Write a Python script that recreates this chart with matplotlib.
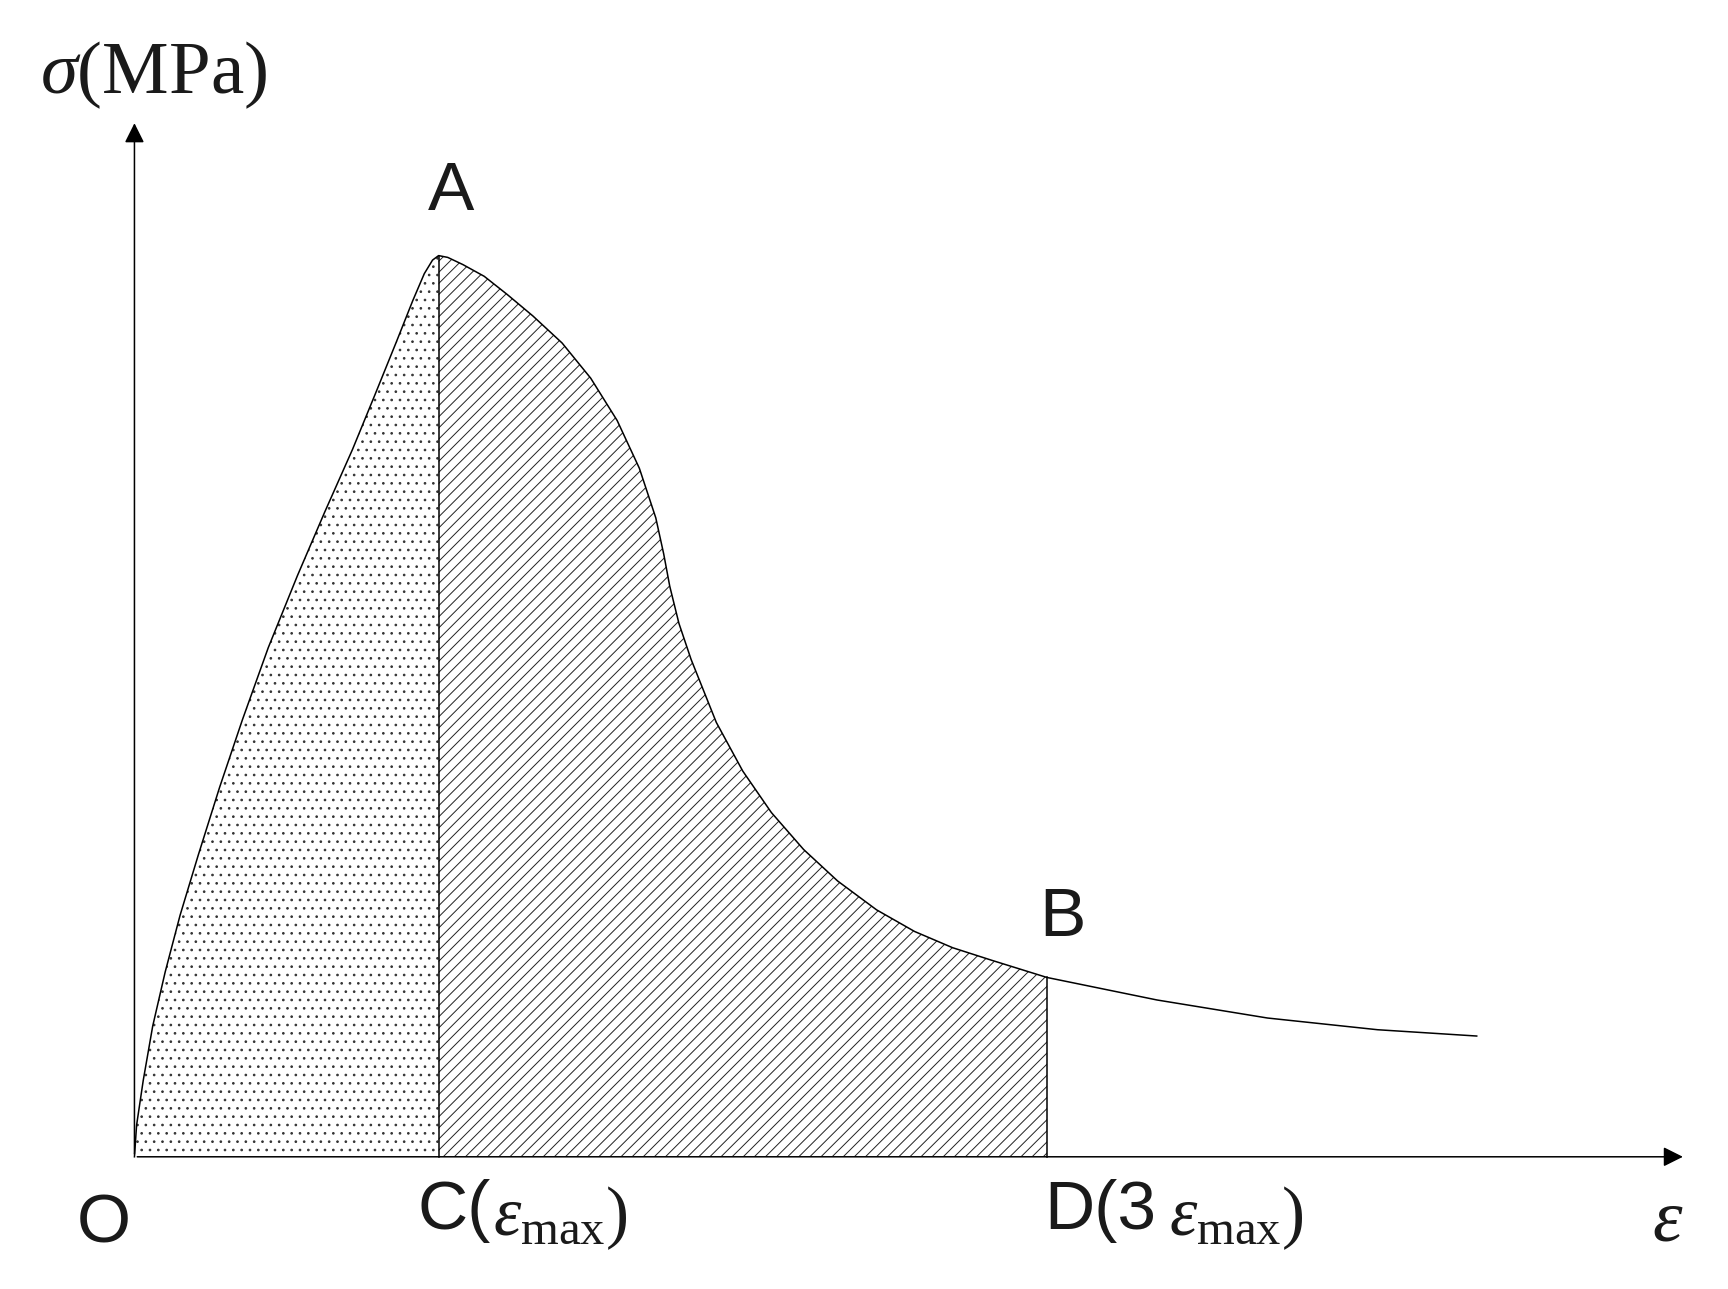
import numpy as np
import matplotlib.pyplot as plt
import matplotlib as mpl

mpl.rcParams['mathtext.fontset'] = 'custom'
mpl.rcParams['mathtext.rm'] = 'Liberation Serif'
mpl.rcParams['mathtext.it'] = 'Liberation Serif:italic'
mpl.rcParams['hatch.linewidth'] = 0.7

# strain in units of eps_max, stress normalised to peak
strain = [0, 0.007, 0.029, 0.060, 0.101, 0.150, 0.210, 0.280, 0.355, 0.440, 0.536,
          0.625, 0.717, 0.790, 0.862, 0.915, 0.953, 0.980, 1.0,
          1.030, 1.080, 1.150, 1.225, 1.310, 1.406, 1.500, 1.587, 1.660, 1.714,
          1.740, 1.760, 1.790, 1.830, 1.913, 2.000, 2.094, 2.200, 2.312,
          2.440, 2.565, 2.690, 2.819, 3.0, 3.362, 3.725, 4.087, 4.413]
stress = [0, 0.035, 0.085, 0.145, 0.205, 0.268, 0.335, 0.410, 0.485, 0.565, 0.645,
          0.715, 0.785, 0.845, 0.905, 0.950, 0.980, 0.995, 1.0,
          0.998, 0.990, 0.977, 0.957, 0.933, 0.903, 0.864, 0.817, 0.764, 0.709,
          0.669, 0.633, 0.592, 0.552, 0.482, 0.428, 0.382, 0.341, 0.306,
          0.274, 0.250, 0.232, 0.218, 0.199, 0.174, 0.154, 0.141, 0.134]
x_c = 1.0
x_d = 3.0

strain = np.array(strain)
stress = np.array(stress)

fig = plt.figure(figsize=(17.28, 12.89), dpi=100)
ax = fig.add_axes([0, 0, 1, 1])
ax.set_xlim(-122 / 276, (1568 - 122) / 276)
ax.set_ylim((1050 - 1170) / 818, 1050 / 818)
ax.axis('off')

lw = 1.1
ax.plot(strain, stress, color='black', lw=lw)

m1 = strain <= x_c
ax.fill_between(strain[m1], 0, stress[m1], facecolor='none', edgecolor='#333333',
                hatch='..', lw=0)
m2 = (strain >= x_c) & (strain <= x_d)
ax.fill_between(strain[m2], 0, stress[m2], facecolor='none', edgecolor='#222222',
                hatch='///', lw=0)
ax.plot([x_c, x_c], [0, 1.0], color='black', lw=lw)
ax.plot([x_d, x_d], [0, stress[strain == x_d][0]], color='black', lw=lw)

# axes with arrows
ax.annotate('', xy=(5.1, 0), xytext=(0, 0),
            arrowprops=dict(arrowstyle='-|>', color='black', lw=lw, mutation_scale=30))
ax.annotate('', xy=(0, 1.15), xytext=(0, 0),
            arrowprops=dict(arrowstyle='-|>', color='black', lw=lw, mutation_scale=30))

sans = dict(family='Liberation Sans', fontsize=50, color='#1a1a1a')
ax.text(1.04, 1.035, 'A', ha='center', va='bottom', **sans)
ax.text(3.05, 0.23, 'B', ha='center', va='bottom', **sans)
ax.text(-0.1, -0.04, 'O', ha='center', va='top', **sans)
ax.text(0.93, -0.025, 'C(', ha='left', va='top', **sans)
ax.text(1.18, -0.03, r'$\varepsilon_{\mathrm{max}}$)', ha='left', va='top',
        fontsize=50, color='#1a1a1a', family='Liberation Serif')
ax.text(2.99, -0.025, 'D(3', ha='left', va='top', **sans)
ax.text(3.40, -0.03, r'$\varepsilon_{\mathrm{max}}$)', ha='left', va='top',
        fontsize=50, color='#1a1a1a', family='Liberation Serif')
ax.text(5.04, -0.03, r'$\varepsilon$', ha='center', va='top', fontsize=54, color='#1a1a1a')
ax.text(-0.31, 1.20, r'$\sigma$(MPa)', ha='left', va='center', fontsize=54,
        color='#1a1a1a', family='Liberation Serif')

fig.savefig('out.png', dpi=100)
